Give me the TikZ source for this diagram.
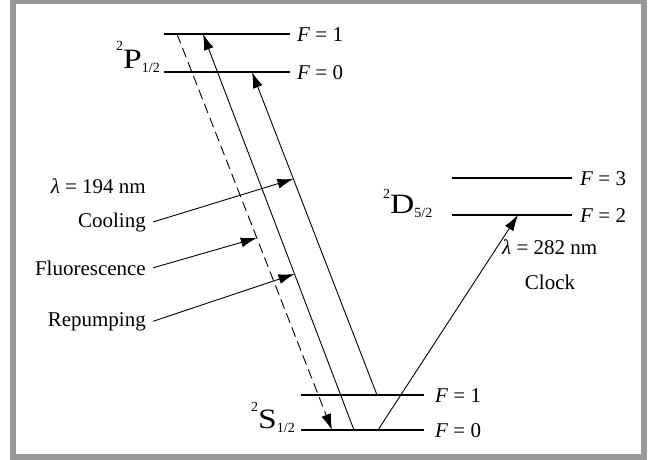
\documentclass[tikz,border=0pt]{standalone}
\usepackage{fontspec}
\setmainfont{Liberation Serif}
\usepackage{graphicx}
\usetikzlibrary{arrows.meta}

\newcommand{\term}[4]{{\fontsize{14}{14}\selectfont\raisebox{#4}{#1}}\scalebox{1.2}[1]{#2}{\fontsize{14}{14}\selectfont\raisebox{-4pt}{#3}}}

\begin{document}
\begin{tikzpicture}[x=1pt,y=-1pt,
    level/.style={line width=1.3pt},
    trans/.style={line width=0.9pt, -{Latex[length=16pt,width=10pt]}},
    txt/.style={font=\fontsize{21}{24}\selectfont, inner sep=0pt},
    termlbl/.style={font=\fontsize{28}{30}\selectfont, inner sep=0pt, anchor=base west}]
    \useasboundingbox (0,0) rectangle (648,459);
    \draw[line width=6pt, black!40] (13,1) rectangle (644,457);
    % Levels
    \coordinate (p1l) at (164,34);  \coordinate (p1r) at (290,34);
    \coordinate (p0l) at (164,72);  \coordinate (p0r) at (290,72);
    \coordinate (d3l) at (452,178); \coordinate (d3r) at (572,178);
    \coordinate (d2l) at (452,215); \coordinate (d2r) at (572,215);
    \coordinate (s1l) at (301,395); \coordinate (s1r) at (424,395);
    \coordinate (s0l) at (301,430); \coordinate (s0r) at (424,430);
    \draw[level] (p1l) -- (p1r);
    \draw[level] (p0l) -- (p0r);
    \draw[level] (d3l) -- (d3r);
    \draw[level] (d2l) -- (d2r);
    \draw[level] (s1l) -- (s1r);
    \draw[level] (s0l) -- (s0r);
    % Nodes
    \node[termlbl] (P) at (116,68) {\term{2}{P}{1/2}{18pt}};
    \node[termlbl] (D) at (383,213) {\term{2}{D}{5/2}{15pt}};
    \node[termlbl] (S) at (251,428) {\term{2}{S}{1/2}{17pt}};
    \node[txt, anchor=base west] (fp1) at (297,41) {\textit{F} = 1};
    \node[txt, anchor=base west] (fp0) at (297,79) {\textit{F} = 0};
    \node[txt, anchor=base west] (fd3) at (580,185) {\textit{F} = 3};
    \node[txt, anchor=base west] (fd2) at (580,222) {\textit{F} = 2};
    \node[txt, anchor=base west] (fs1) at (435,402) {\textit{F} = 1};
    \node[txt, anchor=base west] (fs0) at (435,437) {\textit{F} = 0};
    \node[txt, anchor=base east] (lam1) at (146,193) {\textit{λ} = 194 nm};
    \node[txt, anchor=base east] (cool) at (146,227) {Cooling};
    \node[txt, anchor=base east] (fluo) at (146,275) {Fluorescence};
    \node[txt, anchor=base east] (rep) at (146,326) {Repumping};
    \node[txt, anchor=base west] (lam2) at (502,254) {\textit{λ} = 282 nm};
    \node[txt, anchor=base] (clock) at (550,289) {Clock};
    % Transitions
    \coordinate (fltop) at (177,34);  \coordinate (flbot) at (332,430);
    \coordinate (clbot) at (377,395); \coordinate (cltop) at (252,72);
    \coordinate (rpbot) at (354,430); \coordinate (rptop) at (203,34);
    \coordinate (ckbot) at (378,430); \coordinate (cktop) at (518,215);
    \draw[trans, dash pattern=on 10pt off 5pt] (fltop) -- (flbot) coordinate[pos=0.515] (flpt);
    \draw[trans] (clbot) -- (cltop) coordinate[pos=0.669] (clpt);
    \draw[trans] (rpbot) -- (rptop) coordinate[pos=0.394] (rppt);
    \draw[trans] (ckbot) -- (cktop);
    % Edges
    \draw[trans] ([xshift=7pt]cool.east) -- (clpt);
    \draw[trans] ([xshift=7pt]fluo.east) -- (flpt);
    \draw[trans] ([xshift=7pt]rep.east) -- (rppt);
\end{tikzpicture}
\end{document}
